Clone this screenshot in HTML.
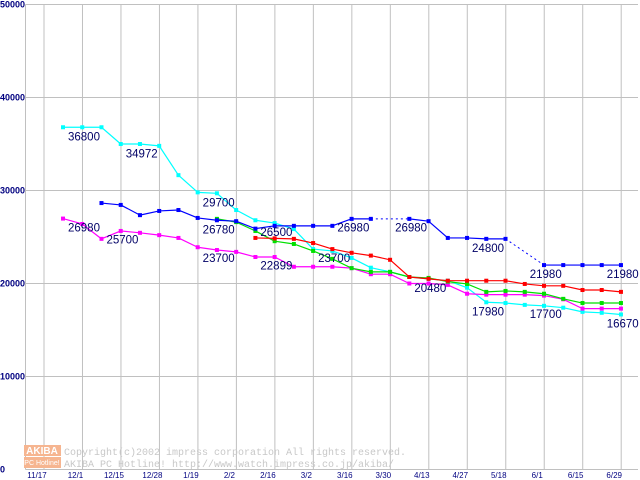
<!DOCTYPE html>
<html><head><meta charset="utf-8"><style>
body{margin:0;background:#fff;width:640px;height:480px;overflow:hidden}
svg{display:block}
</style></head><body>
<svg id="chart" width="640" height="480" viewBox="0 0 640 480" xmlns="http://www.w3.org/2000/svg" font-family="Liberation Sans, sans-serif">
<g id="grid"></g>
<g id="wm">
<rect x="24" y="445" width="37" height="11" fill="#f6b590"/>
<text x="42" y="454" font-size="10" font-weight="bold" fill="#fff" text-anchor="middle">AKIBA</text>
<rect x="24" y="457" width="37" height="11" fill="#f6b590"/>
<text x="42" y="465" font-size="7" fill="#fff" text-anchor="middle">PC Hotline!</text>
<text x="64" y="455" font-size="10" fill="#c8c8c8" style="font-family:'Liberation Mono',monospace">Copyright(c)2002 impress corporation All rights reserved.</text>
<text x="64" y="467" font-size="10" fill="#c8c8c8" style="font-family:'Liberation Mono',monospace">AKIBA PC Hotline!  http://www.watch.impress.co.jp/akiba/</text>
</g>
<g id="series"></g>
<g id="labels"></g>
</svg>
<script>
const xLabels=["11/17","12/1","12/15","12/28","1/19","2/2","2/16","3/2","3/16","3/30","4/13","4/27","5/18","6/1","6/15","6/29"];
const yTicks=[0,10000,20000,30000,40000,50000];
const cyanVals=[36800,36800,36800,35000,35000,34800,31650,29800,29700,27900,26800,26500,25850,23700,23500,22750,21700,21250,20700,20500,20300,19550,17980,17900,17700,17600,17400,16950,16850,16670];
const magentaVals=[26980,26400,24800,25650,25450,25200,24900,23900,23600,23400,22850,22850,21800,21800,21800,21650,21000,21000,20000,20000,19850,18900,18800,18800,18800,18700,18300,17300,17300,17300];
const blueVals=[null,null,28650,28450,27350,27800,27900,27050,26800,26700,25900,26200,26200,26200,26200,26950,26950,null,26950,26700,24900,24900,24800,24800,null,21980,21980,21980,21980,21980];
const redVals=[null,null,null,null,null,null,null,null,null,null,24900,24850,24800,24350,23700,23300,23000,22550,20700,20500,20300,20300,20300,20300,19950,19750,19750,19300,19300,19100];
const greenVals=[null,null,null,null,null,null,null,null,26950,26600,25650,24550,24250,23500,22650,21650,21250,21250,20700,20600,20200,19950,19100,19200,19100,18900,18350,17900,17900,17900];
const labelTexts=["36800","34972","29700","26980","25700","26780","23700","26500","22899","23700","26980","26980","20480","24800","17980","21980","17700","21980","16670"];
const labelIdx=[0,3,7,0,2,7,7,10,10,13,14,17,18,21,21,24,24,28,28];
const labelVals=[36800,34972,29700,26980,25700,26780,23700,26500,22899,23700,26980,26980,20480,24800,17980,21980,17700,21980,16670];
const NS="http://www.w3.org/2000/svg";
const X0=25.5,X1=638,Y0=469.5,YTOP=4.5;
function xs(i){return 63+19.24*i;}
function ys(v){return Y0-(v/50000)*(Y0-YTOP);}
function gridX(k){return 44+38.48*k;}
function mk(tag,attrs,parent){const e=document.createElementNS(NS,tag);for(const k in attrs)e.setAttribute(k,attrs[k]);parent.appendChild(e);return e;}
const grid=document.getElementById('grid');
yTicks.forEach(t=>{
  const l=mk('line',{x1:X0,x2:X1,y1:ys(t),y2:ys(t),stroke:'#c0c0c0'},grid);
  
  
  const tx=mk('text',{x:0,y:ys(t)+3,'font-size':9,'font-weight':'bold',fill:'#000080'},grid);
  tx.textContent=String(t);
  
  
});
mk('line',{x1:X0,x2:X0,y1:YTOP,y2:Y0,stroke:'#c0c0c0'},grid);
xLabels.forEach((s,k)=>{
  const x=gridX(k);
  const l=mk('line',{x1:x,x2:x,y1:YTOP,y2:Y0,stroke:'#c0c0c0'},grid);
  
  
  const tx=mk('text',{x:x-7,y:478,'font-size':8,fill:'#000080','text-anchor':'middle'},grid);
  tx.textContent=s;
  
  
});
const sg=document.getElementById('series');
function drawSeries(vals,color,name){
  const g=mk('g',{},sg);
  
  
  let prev=-1;
  vals.forEach((v,i)=>{
    if(v==null)return;
    if(prev>=0){
      const dotted=(i-prev)>1;
      const ln=mk('line',{x1:xs(prev),y1:ys(vals[prev]),x2:xs(i),y2:ys(v),stroke:color,'stroke-width':dotted?1:1.2,'stroke-dasharray':dotted?'2,3':'none'},g);
      
      
    }
    prev=i;
  });
  vals.forEach((v,i)=>{
    if(v==null)return;
    const r=mk('rect',{x:xs(i)-2,y:ys(v)-2,width:4,height:4,fill:color},g);
    
    
  });
}
drawSeries(cyanVals,'#00ffff','cyan-series');
drawSeries(magentaVals,'#ff00ff','magenta-series');
drawSeries(greenVals,'#00e000','green-series');
drawSeries(redVals,'#ff0000','red-series');
drawSeries(blueVals,'#0000ff','blue-series');
const lg=document.getElementById('labels');
labelTexts.forEach((s,j)=>{
  const tx=mk('text',{x:xs(labelIdx[j])+5,y:ys(labelVals[j])+13,'font-size':11.5,fill:'#000066'},lg);
  tx.textContent=s;
  
  
});
</script>
</body></html>
